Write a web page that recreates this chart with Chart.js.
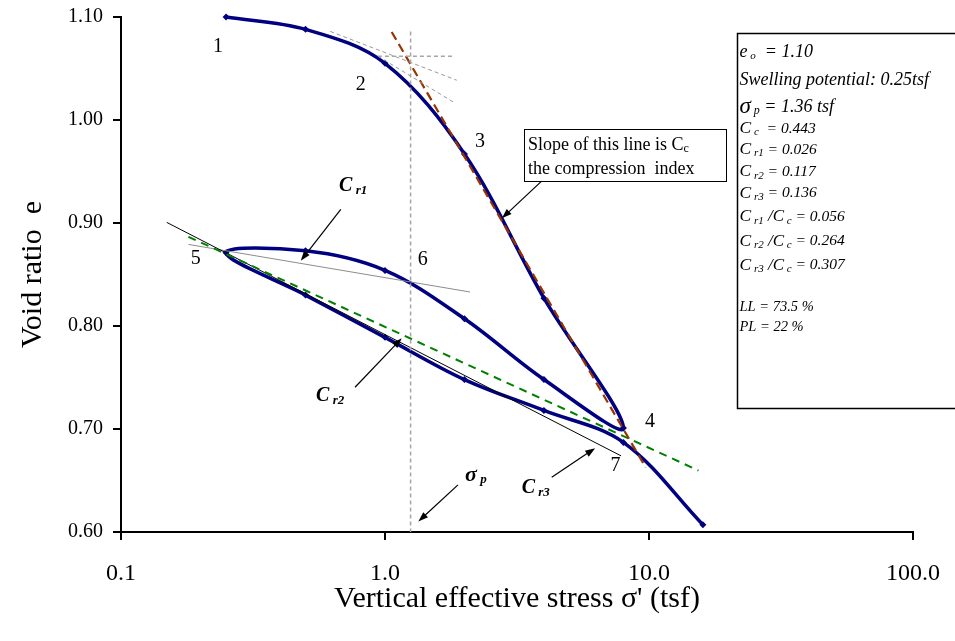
<!DOCTYPE html>
<html>
<head>
<meta charset="utf-8">
<script src="https://cdn.jsdelivr.net/npm/chart.js@4.4.1/dist/chart.umd.min.js"></script>
<style>
  html, body { margin: 0; padding: 0; background: #fff; }
  #wrap { width: 955px; height: 641px; }
</style>
</head>
<body>
<div id="wrap"><canvas id="chart"></canvas></div>
<script>
// e - log(p) curve: load 0.25 -> 8, unload 8 -> 0.25, reload 0.25 -> 16
const stress = [0.25, 0.5, 1, 2, 4, 8, 4, 2, 1, 0.5, 0.25, 0.5, 1, 2, 4, 8, 16]
const voidRatio = [1.100, 1.088, 1.055, 0.967, 0.827, 0.701, 0.748, 0.807, 0.854, 0.873, 0.871, 0.830, 0.789, 0.748, 0.718, 0.687, 0.607]

const xTicks = [0.1, 1, 10, 100]
const yTicks = [0.6, 0.7, 0.8, 0.9, 1.0, 1.1]

// Casagrande construction
const tangentX = [0.62, 1.87]
const tangentY = [1.086, 1.0386]
const horizX = [0.94, 1.81]
const horizY = [1.062, 1.062]
const bisectX = [0.94, 1.81]
const bisectY = [1.062, 1.0176]
const sigmaPX = [1.25, 1.25]
const sigmaPY = [1.086, 0.60]

// slope lines
const ccX = [1.06, 9.72]
const ccY = [1.0855, 0.6626]
const cr1X = [0.18, 2.10]
const cr1Y = [0.8792, 0.833]
const cr2X = [0.18, 15.4]
const cr2Y = [0.8866, 0.6597]
const cr3X = [0.149, 7.84]
const cr3Y = [0.9006, 0.6739]

const SERIF = '"Liberation Serif", "Times New Roman", serif'

function pts(xs, ys) {
  return xs.map((x, i) => ({ x: x, y: ys[i] }))
}

function refLine(xs, ys, color, width, dash) {
  return {
    data: pts(xs, ys),
    showLine: true,
    borderColor: color,
    borderWidth: width,
    borderDash: dash,
    pointRadius: 0,
    tension: 0,
    order: 1
  }
}

function arrow(ctx, x1, y1, x2, y2) {
  const a = Math.atan2(y2 - y1, x2 - x1)
  const len = 10
  const w = 3.5
  ctx.beginPath()
  ctx.moveTo(x1, y1)
  ctx.lineTo(x2 - Math.cos(a) * len * 0.7, y2 - Math.sin(a) * len * 0.7)
  ctx.stroke()
  ctx.beginPath()
  ctx.moveTo(x2, y2)
  ctx.lineTo(x2 - len * Math.cos(a) + w * Math.sin(a), y2 - len * Math.sin(a) - w * Math.cos(a))
  ctx.lineTo(x2 - len * Math.cos(a) - w * Math.sin(a), y2 - len * Math.sin(a) + w * Math.cos(a))
  ctx.closePath()
  ctx.fill()
}

// parts: [text, font, dy]
function drawRich(ctx, x, y, parts) {
  let cx = x
  parts.forEach(([t, f, dy]) => {
    ctx.font = f
    ctx.fillText(t, cx, y + (dy || 0))
    cx += ctx.measureText(t).width
  })
}

const it = s => 'italic ' + s + 'px ' + SERIF
const bi = s => 'italic bold ' + s + 'px ' + SERIF

const pointNumbers = [
  { text: '1', x: 0.233, y: 1.0716 },
  { text: '2', x: 0.809, y: 1.0338 },
  { text: '3', x: 2.29, y: 0.9788 },
  { text: '4', x: 10.09, y: 0.7066 },
  { text: '5', x: 0.192, y: 0.8657 },
  { text: '6', x: 1.39, y: 0.8647 },
  { text: '7', x: 7.47, y: 0.6642 }
]

const callouts = [
  { x: 0.67, y: 0.9358, main: 'C', sub: 'r1', from: [0.680, 0.9132], to: [0.4795, 0.8633] },
  { x: 0.548, y: 0.732, main: 'C', sub: 'r2', from: [0.770, 0.7405], to: [1.157, 0.7881] },
  { x: 3.295, y: 0.6426, main: 'C', sub: 'r3', from: [4.28, 0.6532], to: [6.25, 0.6814] },
  { x: 2.01, y: 0.6555, main: 'σ', sub: 'p', from: [1.89, 0.6458], to: [1.337, 0.6102] }
]

const slopeBox = { x: 3.36, y: 0.9911, w: 202, h: 52, from: [3.92, 0.9406], to: [2.77, 0.9045] }

const infoBox = { x: 21.5, top: 1.084, bottom: 0.720 }
const infoLines = [
  [18.4, [['e', it(18)], [' o', it(11), 4], ['  = 1.10', it(18)]]],
  [46.7, [['Swelling potential: 0.25tsf', it(18)]]],
  [73.4, [['σ', it(23)], [' p', it(12), 4], [' = 1.36 tsf', it(18)]]],
  [95, [['C', it(17.5)], [' c', it(11), 4], ['  = 0.443', it(15.5)]]],
  [116, [['C', it(17.5)], [' r1', it(11), 4], [' = 0.026', it(15.5)]]],
  [138.4, [['C', it(17.5)], [' r2', it(11), 4], [' = 0.117', it(15.5)]]],
  [159.7, [['C', it(17.5)], [' r3', it(11), 4], [' = 0.136', it(15.5)]]],
  [183.4, [['C', it(17.5)], [' r1', it(11), 4], [' /C', it(17)], [' c', it(11), 4], [' = 0.056', it(15.5)]]],
  [207.7, [['C', it(17.5)], [' r2', it(11), 4], [' /C', it(17)], [' c', it(11), 4], [' = 0.264', it(15.5)]]],
  [231.7, [['C', it(17.5)], [' r3', it(11), 4], [' /C', it(17)], [' c', it(11), 4], [' = 0.307', it(15.5)]]],
  [274, [['LL = 73.5 %', it(14.5)]]],
  [293.4, [['PL = 22 %', it(14.5)]]]
]

const annotations = {
  id: 'annotations',
  afterDatasetsDraw(chart) {
    const { ctx, scales } = chart
    const X = v => scales.x.getPixelForValue(v)
    const Y = v => scales.y.getPixelForValue(v)
    ctx.save()
    ctx.fillStyle = '#000'
    ctx.strokeStyle = '#000'
    ctx.textBaseline = 'middle'

    ctx.textAlign = 'center'
    ctx.font = '20px ' + SERIF
    pointNumbers.forEach(p => ctx.fillText(p.text, X(p.x), Y(p.y)))

    ctx.textAlign = 'left'
    ctx.lineWidth = 1.2
    callouts.forEach(c => {
      drawRich(ctx, X(c.x), Y(c.y), [[c.main, bi(c.main === 'σ' ? 22 : 20)], [' ' + c.sub, bi(13), 5]])
      arrow(ctx, X(c.from[0]), Y(c.from[1]), X(c.to[0]), Y(c.to[1]))
    })

    // slope note
    const bx = X(slopeBox.x)
    const by = Y(slopeBox.y)
    ctx.fillStyle = '#fff'
    ctx.fillRect(bx, by, slopeBox.w, slopeBox.h)
    ctx.lineWidth = 1
    ctx.strokeRect(Math.round(bx) + 0.5, Math.round(by) + 0.5, slopeBox.w, slopeBox.h)
    ctx.fillStyle = '#000'
    drawRich(ctx, bx + 4, by + 16, [['Slope of this line is C', '18px ' + SERIF], ['c', '12px ' + SERIF, 4]])
    drawRich(ctx, bx + 4, by + 40, [['the compression  index', '18px ' + SERIF]])
    ctx.lineWidth = 1.2
    arrow(ctx, X(slopeBox.from[0]), Y(slopeBox.from[1]), X(slopeBox.to[0]), Y(slopeBox.to[1]))

    // parameter box
    const ix = Math.round(X(infoBox.x)) + 0.5
    const iy = Math.round(Y(infoBox.top)) + 0.5
    const ib = Math.round(Y(infoBox.bottom)) + 0.5
    ctx.lineWidth = 1.5
    ctx.strokeRect(ix, iy, chart.width + 5 - ix, ib - iy)
    infoLines.forEach(([dy, parts]) => drawRich(ctx, ix + 2, iy + dy, parts))
    ctx.restore()
  }
}

const tickFont = size => ({ family: SERIF, size: size })

new Chart(document.getElementById('chart'), {
  type: 'scatter',
  data: {
    datasets: [
      refLine(tangentX, tangentY, '#999999', 1, [4, 3]),
      refLine(horizX, horizY, '#a6a6a6', 1.5, [4, 3]),
      refLine(bisectX, bisectY, '#999999', 1, [4, 3]),
      refLine(sigmaPX, sigmaPY, '#a6a6a6', 1.5, [4, 3]),
      refLine(ccX, ccY, '#993300', 2.2, [9, 5]),
      refLine(cr2X, cr2Y, '#008000', 2, [8, 6]),
      refLine(cr3X, cr3Y, '#000000', 1, []),
      refLine(cr1X, cr1Y, '#8c8c8c', 1, []),
      {
        data: pts(stress, voidRatio),
        showLine: true,
        clip: false,
        borderColor: '#000080',
        borderWidth: 3.5,
        backgroundColor: '#000080',
        pointStyle: 'rectRot',
        pointRadius: 3.5,
        pointBorderWidth: 0,
        tension: 0.35,
        order: 2
      }
    ]
  },
  options: {
    responsive: true,
    maintainAspectRatio: false,
    animation: false,
    events: [],
    layout: { padding: { top: 17, right: 42, bottom: 0, left: 0 } },
    plugins: { legend: { display: false }, tooltip: { enabled: false } },
    scales: {
      x: {
        type: 'logarithmic',
        min: 0.1,
        max: 100,
        afterBuildTicks: scale => { scale.ticks = xTicks.map(v => ({ value: v })) },
        afterFit: scale => {
          scale.height = 109
          scale.paddingLeft = 0
          scale.paddingRight = 0
        },
        ticks: {
          autoSkip: false,
          maxRotation: 0,
          padding: 19,
          color: '#000',
          font: tickFont(24),
          callback: v => Number(v).toFixed(1)
        },
        grid: { drawOnChartArea: false, drawTicks: true, tickLength: 8, tickColor: '#000', lineWidth: 2 },
        border: { display: true, color: '#000', width: 2 },
        title: {
          display: true,
          text: "Vertical effective stress σ' (tsf)",
          color: '#000',
          font: { family: SERIF, size: 30 },
          padding: { top: 0, bottom: 24 }
        }
      },
      y: {
        type: 'linear',
        min: 0.6,
        max: 1.1,
        afterBuildTicks: scale => { scale.ticks = yTicks.map(v => ({ value: v })) },
        afterFit: scale => {
          scale.width = 121
          scale.paddingTop = 0
          scale.paddingBottom = 0
        },
        ticks: {
          padding: 10,
          color: '#000',
          font: tickFont(20),
          callback: v => Number(v).toFixed(2)
        },
        grid: { drawOnChartArea: false, drawTicks: true, tickLength: 8, tickColor: '#000', lineWidth: 2 },
        border: { display: true, color: '#000', width: 2 },
        title: {
          display: true,
          text: 'Void ratio  e',
          color: '#000',
          font: { family: SERIF, size: 30 },
          padding: { top: 15, bottom: 0 }
        }
      }
    }
  },
  plugins: [annotations]
})
</script>
</body>
</html>
